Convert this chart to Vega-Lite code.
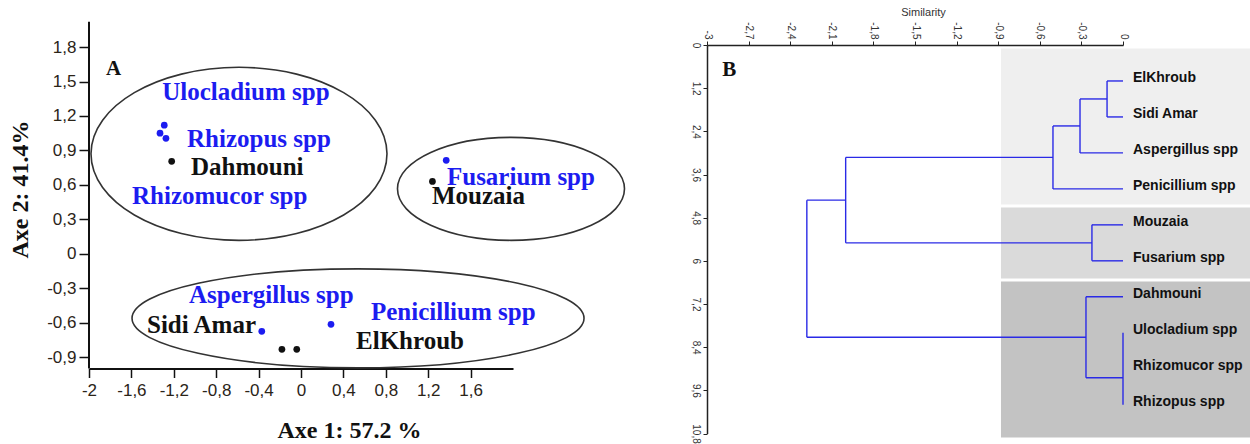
{
  "$schema": "https://vega.github.io/schema/vega-lite/v6.json",
  "background": "white",
  "padding": {"left": 7, "top": 6, "right": 0, "bottom": 0},
  "bounds": "flush",
  "spacing": 194,
  "resolve": {"scale": {"color": "independent", "x": "independent", "y": "independent"}},
  "config": {
    "view": {"stroke": null},
    "axis": {"grid": false, "labelFlush": false, "labelOverlap": false, "labelBound": false}
  },
  "datasets": {
    "pca": [
      {"name": "Ulocladium spp", "kind": "fungus", "x": -1.29, "y": 1.12, "lx": -1.31, "ly": 1.336},
      {"name": "Rhizopus spp", "kind": "fungus", "x": -1.33, "y": 1.05, "lx": -1.075, "ly": 0.927},
      {"name": "Rhizomucor spp", "kind": "fungus", "x": -1.274, "y": 1.005, "lx": -1.594, "ly": 0.43},
      {"name": "Dahmouni", "kind": "site", "x": -1.22, "y": 0.805, "lx": -1.038, "ly": 0.683},
      {"name": "Fusarium spp", "kind": "fungus", "x": 1.37, "y": 0.813, "lx": 1.377, "ly": 0.596},
      {"name": "Mouzaia", "kind": "site", "x": 1.24, "y": 0.63, "lx": 1.236, "ly": 0.43},
      {"name": "Aspergillus spp", "kind": "fungus", "x": -0.37, "y": -0.676, "lx": -1.057, "ly": -0.432},
      {"name": "Sidi Amar", "kind": "site", "x": -0.18, "y": -0.833, "lx": -1.453, "ly": -0.693},
      {"name": "ElKhroub", "kind": "site", "x": -0.04, "y": -0.833, "lx": 0.519, "ly": -0.833},
      {"name": "Penicillium spp", "kind": "fungus", "x": 0.283, "y": -0.615, "lx": 0.66, "ly": -0.58}
    ],
    "ellipses": [
      {"group": "g1", "cx": -0.585, "cy": 0.87},
      {"group": "g2", "cx": 1.981, "cy": 0.565},
      {"group": "g3", "cx": 0.538, "cy": -0.563}
    ],
    "clusters": [
      {"cluster": "c1", "x": -0.88, "x2": 0.93, "y": 0.097, "y2": 4.434},
      {"cluster": "c2", "x": -0.88, "x2": 0.93, "y": 4.518, "y2": 6.49},
      {"cluster": "c3", "x": -0.88, "x2": 0.93, "y": 6.575, "y2": 10.91}
    ],
    "dendro": [
      {"x": 0, "y": 1, "x2": -0.115, "y2": 1},
      {"x": 0, "y": 2, "x2": -0.115, "y2": 2},
      {"x": -0.115, "y": 1, "x2": -0.115, "y2": 2},
      {"x": -0.115, "y": 1.5, "x2": -0.31, "y2": 1.5},
      {"x": 0, "y": 3, "x2": -0.31, "y2": 3},
      {"x": -0.31, "y": 1.5, "x2": -0.31, "y2": 3},
      {"x": -0.31, "y": 2.25, "x2": -0.505, "y2": 2.25},
      {"x": 0, "y": 4, "x2": -0.505, "y2": 4},
      {"x": -0.505, "y": 2.25, "x2": -0.505, "y2": 4},
      {"x": -0.505, "y": 3.125, "x2": -2.0, "y2": 3.125},
      {"x": 0, "y": 5, "x2": -0.224, "y2": 5},
      {"x": 0, "y": 6, "x2": -0.224, "y2": 6},
      {"x": -0.224, "y": 5, "x2": -0.224, "y2": 6},
      {"x": -0.224, "y": 5.5, "x2": -2.0, "y2": 5.5},
      {"x": -2.0, "y": 3.125, "x2": -2.0, "y2": 5.5},
      {"x": -2.0, "y": 4.3125, "x2": -2.28, "y2": 4.3125},
      {"x": 0, "y": 7, "x2": -0.267, "y2": 7},
      {"x": 0, "y": 8, "x2": 0, "y2": 10},
      {"x": 0, "y": 9.25, "x2": -0.267, "y2": 9.25},
      {"x": -0.267, "y": 7, "x2": -0.267, "y2": 9.25},
      {"x": -0.267, "y": 8.125, "x2": -2.28, "y2": 8.125},
      {"x": -2.28, "y": 4.3125, "x2": -2.28, "y2": 8.125}
    ],
    "leaves": [
      {"name": "ElKhroub", "pos": 1},
      {"name": "Sidi Amar", "pos": 2},
      {"name": "Aspergillus spp", "pos": 3},
      {"name": "Penicillium spp", "pos": 4},
      {"name": "Mouzaia", "pos": 5},
      {"name": "Fusarium spp", "pos": 6},
      {"name": "Dahmouni", "pos": 7},
      {"name": "Ulocladium spp", "pos": 8},
      {"name": "Rhizomucor spp", "pos": 9},
      {"name": "Rhizopus spp", "pos": 10}
    ]
  },
  "hconcat": [
    {
      "width": 424,
      "height": 323.5,
      "layer": [
        {
          "data": {"name": "pca"},
          "mark": {"type": "point", "filled": true, "size": 45, "opacity": 1},
          "encoding": {
            "x": {
              "field": "x", "type": "quantitative",
              "scale": {"domain": [-2, 2], "nice": false, "zero": false},
              "axis": {
                "values": [-2, -1.6, -1.2, -0.8, -0.4, 0, 0.4, 0.8, 1.2, 1.6],
                "tickCount": 30,
                "labelExpr": "replace(replace(format(datum.value, '~g'), '.', ','), '\u2212', '-')",
                "labelOverlap": false,
                "domainColor": "#111", "domainWidth": 2, "tickColor": "#111", "tickWidth": 1.5, "tickSize": 9,
                "labelFont": "Liberation Sans", "labelFontSize": 17, "labelColor": "#2b2418", "labelPadding": 5,
                "title": "Axe 1:  57.2 %", "titleFont": "Liberation Serif", "titleFontSize": 24, "titleFontWeight": "bold",
                "titleColor": "#111", "titleX": 260, "titleY": 69, "titleBaseline": "alphabetic", "titleAlign": "center"
              }
            },
            "y": {
              "field": "y", "type": "quantitative",
              "scale": {"domain": [-1, 1.818], "nice": false, "zero": false},
              "axis": {
                "values": [-0.9, -0.6, -0.3, 0, 0.3, 0.6, 0.9, 1.2, 1.5, 1.8],
                "tickCount": 30,
                "labelExpr": "replace(replace(format(datum.value, '~g'), '.', ','), '\u2212', '-')",
                "labelOverlap": false,
                "domain": false, "tickColor": "#111", "tickWidth": 1.5, "tickSize": 10,
                "labelFont": "Liberation Sans", "labelFontSize": 17, "labelColor": "#2b2418", "labelPadding": 3,
                "title": "Axe 2: 41.4%", "titleFont": "Liberation Serif", "titleFontSize": 24, "titleFontWeight": "bold",
                "titleColor": "#111", "titleX": -57, "titleY": 144, "titleBaseline": "bottom", "titleAngle": -90, "titleAlign": "center"
              }
            },
            "color": {
              "field": "kind", "type": "nominal",
              "scale": {"domain": ["fungus", "site"], "range": ["#1c1cf0", "#111111"]},
              "legend": null
            }
          }
        },
        {
          "data": {"name": "ellipses"},
          "transform": [{"filter": "datum.group === 'g1'"}],
          "mark": {"type": "point", "filled": false, "stroke": "#333333", "strokeWidth": 1.6, "opacity": 1,
                   "shape": "M-1,0A1,0.5845,0,1,0,1,0A1,0.5845,0,1,0,-1,0Z", "size": 87616},
          "encoding": {
            "x": {"field": "cx", "type": "quantitative"},
            "y": {"field": "cy", "type": "quantitative"}
          }
        },
        {
          "data": {"name": "ellipses"},
          "transform": [{"filter": "datum.group === 'g2'"}],
          "mark": {"type": "point", "filled": false, "stroke": "#333333", "strokeWidth": 1.6, "opacity": 1,
                   "shape": "M-1,0A1,0.4537,0,1,0,1,0A1,0.4537,0,1,0,-1,0Z", "size": 51529},
          "encoding": {
            "x": {"field": "cx", "type": "quantitative"},
            "y": {"field": "cy", "type": "quantitative"}
          }
        },
        {
          "data": {"name": "ellipses"},
          "transform": [{"filter": "datum.group === 'g3'"}],
          "mark": {"type": "point", "filled": false, "stroke": "#333333", "strokeWidth": 1.6, "opacity": 1,
                   "shape": "M-1,0A1,0.219,0,1,0,1,0A1,0.219,0,1,0,-1,0Z", "size": 204304},
          "encoding": {
            "x": {"field": "cx", "type": "quantitative"},
            "y": {"field": "cy", "type": "quantitative"}
          }
        },
        {
          "data": {"name": "pca"},
          "mark": {"type": "text", "align": "left", "baseline": "alphabetic", "font": "Liberation Serif", "fontSize": 25, "fontWeight": "bold"},
          "encoding": {
            "x": {"field": "lx", "type": "quantitative"},
            "y": {"field": "ly", "type": "quantitative"},
            "text": {"field": "name"},
            "color": {"field": "kind", "type": "nominal"}
          }
        },
        {
          "data": {"values": [{}]},
          "mark": {"type": "rule", "color": "#111", "strokeWidth": 2},
          "encoding": {
            "x": {"datum": -2, "type": "quantitative"},
            "y": {"datum": -1, "type": "quantitative"},
            "y2": {"datum": 2.02}
          }
        },
        {
          "data": {"values": [{}]},
          "mark": {"type": "text", "text": "A", "align": "left", "baseline": "alphabetic", "font": "Liberation Serif", "fontSize": 21, "fontWeight": "bold", "color": "#111"},
          "encoding": {
            "x": {"datum": -1.84, "type": "quantitative"},
            "y": {"datum": 1.554, "type": "quantitative"}
          }
        }
      ]
    },
    {
      "width": 416,
      "height": 388.5,
      "layer": [
        {
          "data": {"name": "clusters"},
          "mark": {"type": "rect"},
          "encoding": {
            "x": {
              "field": "x", "type": "quantitative",
              "scale": {"domain": [-3, 0], "nice": false, "zero": false},
              "axis": {
                "orient": "top",
                "values": [-3, -2.7, -2.4, -2.1, -1.8, -1.5, -1.2, -0.9, -0.6, -0.3, 0],
                "tickCount": 30,
                "labelExpr": "replace(replace(format(datum.value, '~g'), '.', ','), '\u2212', '-')",
                "labelOverlap": false,
                "labelAngle": 90, "labelFont": "Liberation Sans", "labelFontSize": 10, "labelColor": "#333",
                "labelPadding": 2, "tickSize": 4, "tickColor": "#222", "domainColor": "#222", "domainWidth": 1.5,
                "title": "Similarity", "titleFont": "Liberation Sans", "titleFontSize": 11, "titleFontWeight": "normal",
                "titleColor": "#333", "titlePadding": 4, "titleX": 216, "titleAlign": "center"
              }
            },
            "x2": {"field": "x2"},
            "y": {
              "field": "y", "type": "quantitative",
              "scale": {"domain": [0, 10.8], "nice": false, "zero": false, "reverse": true},
              "axis": {
                "values": [0, 1.2, 2.4, 3.6, 4.8, 6, 7.2, 8.4, 9.6, 10.8],
                "tickCount": 30,
                "labelExpr": "replace(replace(format(datum.value, '~g'), '.', ','), '\u2212', '-')",
                "labelOverlap": false,
                "labelAngle": 90, "labelFont": "Liberation Sans", "labelFontSize": 10, "labelColor": "#333",
                "labelPadding": 3, "tickSize": 4, "tickColor": "#222", "domainColor": "#222", "domainWidth": 1.5,
                "title": null
              }
            },
            "y2": {"field": "y2"},
            "color": {
              "field": "cluster", "type": "nominal",
              "scale": {"domain": ["c1", "c2", "c3"], "range": ["#efefef", "#dadada", "#c3c3c3"]},
              "legend": null
            }
          }
        },
        {
          "data": {"name": "dendro"},
          "mark": {"type": "rule", "color": "#2a2ae6", "strokeWidth": 1.4},
          "encoding": {
            "x": {"field": "x", "type": "quantitative"},
            "x2": {"field": "x2"},
            "y": {"field": "y", "type": "quantitative"},
            "y2": {"field": "y2"}
          }
        },
        {
          "data": {"name": "leaves"},
          "mark": {"type": "text", "align": "left", "baseline": "middle", "dy": -3, "font": "Liberation Sans", "fontSize": 14, "fontWeight": "bold", "color": "#111"},
          "encoding": {
            "x": {"datum": 0.072, "type": "quantitative"},
            "y": {"field": "pos", "type": "quantitative"},
            "text": {"field": "name"}
          }
        },
        {
          "data": {"values": [{}]},
          "mark": {"type": "text", "text": "B", "align": "left", "baseline": "alphabetic", "font": "Liberation Serif", "fontSize": 21, "fontWeight": "bold", "color": "#111"},
          "encoding": {
            "x": {"datum": -2.89, "type": "quantitative"},
            "y": {"datum": 0.85, "type": "quantitative"}
          }
        }
      ]
    }
  ]
}
